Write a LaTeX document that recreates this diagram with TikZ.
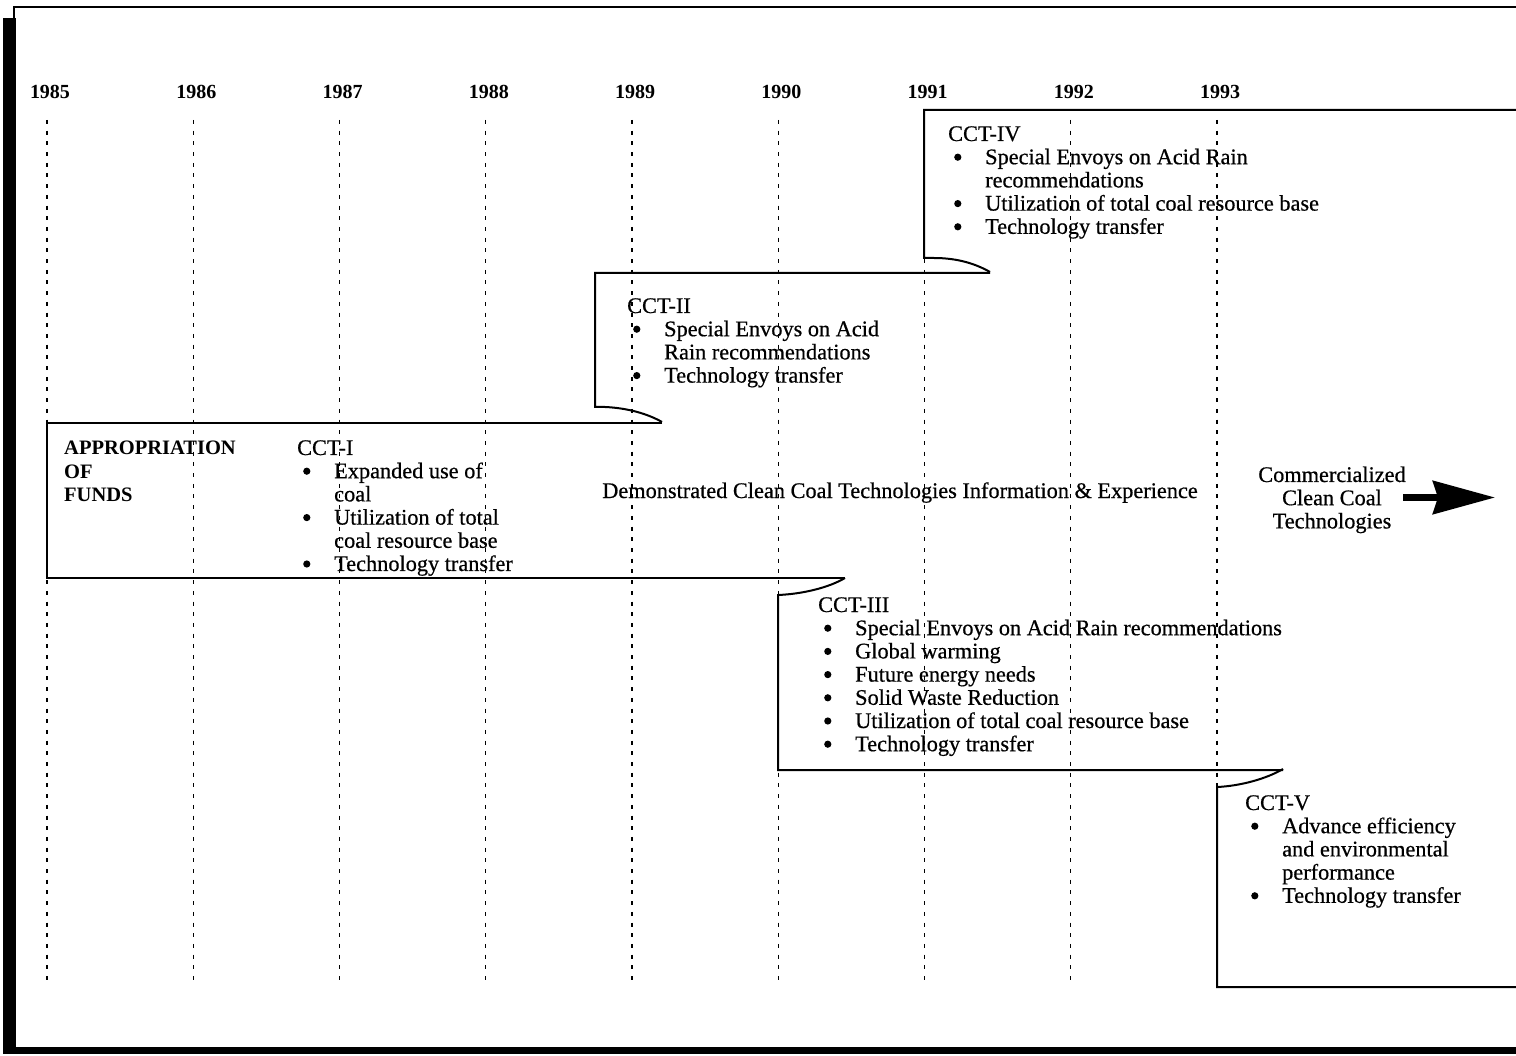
\documentclass[tikz,border=0pt]{standalone}
\usepackage{fontspec}
\setmainfont{Liberation Serif}
\newfontfamily\scanfont[FakeBold=0.6]{Liberation Serif}
\usetikzlibrary{arrows.meta}
\newcommand\dotb{\tikz[baseline=0pt]\fill (3.6pt,7pt) circle (3.6pt);}
\newcommand\bi{\hspace*{6pt}\makebox[31pt][l]{\dotb}}
\newcommand\ci{\hspace*{37pt}}
\tikzset{
  yr/.style={font=\fontsize{20}{23}\selectfont\bfseries, anchor=base, inner sep=0pt},
  txt/.style={font=\scanfont\fontsize{22.3}{23.2}\selectfont, anchor=base west, inner sep=0pt},
  boxline/.style={line width=2pt, line join=miter},
  gridline/.style={line width=1.3pt, dash pattern=on 4pt off 6.7pt},
}
\begin{document}
\begin{tikzpicture}[x=1pt,y=-1pt]
\useasboundingbox (0,0) rectangle (1516,1056);
% frame
\draw[line width=2.5pt] (14,18) -- (14,7) -- (1516,7);
\fill (3,18) rectangle (16,1054);
\fill (3,1047) rectangle (1516,1054);
% year grid
\foreach \i/\yy in {0/1985,1/1986,2/1987,3/1988,4/1989,5/1990,6/1991,7/1992,8/1993}{
  \draw[gridline] (47+146.25*\i,120) -- (47+146.25*\i,985);
  \node[yr] (y\yy) at (50+146.25*\i,99) {\yy};
}
% boxes
\draw[boxline] (1516,110) -- (924,110) -- (924,258) -- (934,258) .. controls (958,258) and (976,264) .. (990,272);
\draw[boxline] (990,273) -- (595,273) -- (595,407) -- (605,407) .. controls (628,408) and (648,414) .. (662,422);
\draw[boxline] (662,423) -- (47,423) -- (47,578) -- (845,578);
\draw[boxline] (845,578) .. controls (828,588) and (802,594) .. (778,595) -- (778,770) -- (1283,770);
\draw[boxline] (1283,769) .. controls (1266,779) and (1240,786) .. (1217,787) -- (1217,987) -- (1516,987);
% texts
\node[txt] (cct4) at (948,141) {\begin{tabular}[t]{@{}l@{}}CCT-IV\\ \bi Special Envoys on Acid Rain\\ \ci recommendations\\ \bi Utilization of total coal resource base\\ \bi Technology transfer\end{tabular}};
\node[txt] (cct2) at (627,313) {\begin{tabular}[t]{@{}l@{}}CCT-II\\ \bi Special Envoys on Acid\\ \ci Rain recommendations\\ \bi Technology transfer\end{tabular}};
\node[txt,font=\fontsize{20.5}{23.2}\selectfont\bfseries] (approp) at (64,455) {\begin{tabular}[t]{@{}l@{}}APPROPRIATION\\ OF\\ FUNDS\end{tabular}};
\node[txt] (cct1) at (297,455) {\begin{tabular}[t]{@{}l@{}}CCT-I\\ \bi Expanded use of\\ \ci coal\\ \bi Utilization of total\\ \ci coal resource base\\ \bi Technology transfer\end{tabular}};
\node[txt,anchor=base] (demo) at (900,498) {Demonstrated Clean Coal Technologies Information \& Experience};
\node[txt,anchor=base] (comm) at (1332,482) {\begin{tabular}[t]{@{}c@{}}Commercialized\\ Clean Coal\\ Technologies\end{tabular}};
\node[txt] (cct3) at (818,612) {\begin{tabular}[t]{@{}l@{}}CCT-III\\ \bi Special Envoys on Acid Rain recommendations\\ \bi Global warming\\ \bi Future energy needs\\ \bi Solid Waste Reduction\\ \bi Utilization of total coal resource base\\ \bi Technology transfer\end{tabular}};
\node[txt] (cct5) at (1245,810) {\begin{tabular}[t]{@{}l@{}}CCT-V\\ \bi Advance efficiency\\ \ci and environmental\\ \ci performance\\ \bi Technology transfer\end{tabular}};
% arrow
\coordinate (arrS) at (1403,497.5);
\coordinate (arrE) at (1495,497.5);
\draw[line width=6.5pt, -{Stealth[length=62pt,width=33pt,inset=5pt]}] (arrS) -- (arrE);
\end{tikzpicture}
\end{document}
